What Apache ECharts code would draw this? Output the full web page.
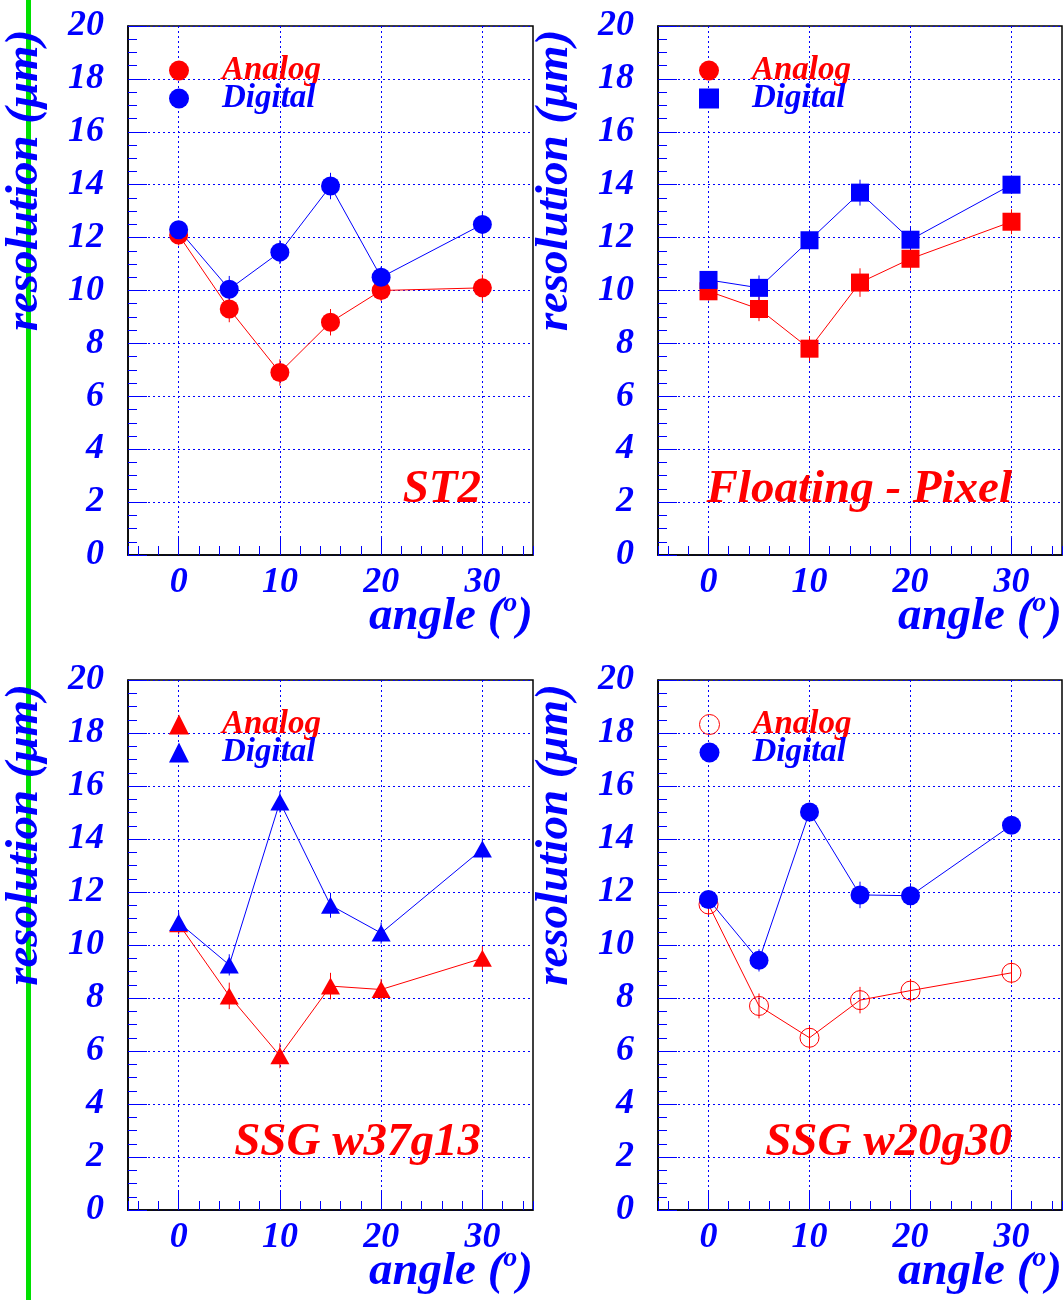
<!DOCTYPE html>
<html><head><meta charset="utf-8">
<script src="https://cdn.jsdelivr.net/npm/echarts@6/dist/echarts.min.js"></script>
<style>html,body{margin:0;padding:0;background:#fff}#c{width:1064px;height:1300px}</style>
</head><body><div id="c"></div>
<script>
// ---- data ----
const angles = [0, 5, 10, 15, 20, 30];

const st2Analog     = [12.1, 9.3, 6.9, 8.8, 10.0, 10.1];
const st2AnalogErr  = [0.4, 0.5, 0.5, 0.5, 0.4, 0.5];
const st2Digital    = [12.3, 10.05, 11.45, 13.95, 10.5, 12.5];
const st2DigitalErr = [0.3, 0.5, 0.45, 0.5, 0.4, 0.45];

const fpAnalog      = [9.97, 9.3, 7.8, 10.3, 11.2, 12.6];
const fpAnalogErr   = [0.35, 0.46, 0.47, 0.54, 0.45, 0.47];
const fpDigital     = [10.4, 10.1, 11.9, 13.7, 11.92, 14.0];
const fpDigitalErr  = [0.33, 0.47, 0.4, 0.49, 0.45, 0.35];

const w37Analog     = [10.8, 8.08, 5.82, 8.45, 8.32, 9.5];
const w37AnalogErr  = [0.4, 0.5, 0.47, 0.5, 0.4, 0.45];
const w37Digital    = [10.85, 9.25, 15.4, 11.5, 10.45, 13.62];
const w37DigitalErr = [0.4, 0.4, 0.4, 0.47, 0.4, 0.4];

const w20Analog     = [11.53, 7.7, 6.5, 7.92, 8.28, 8.95];
const w20AnalogErr  = [0.4, 0.47, 0.44, 0.5, 0.44, 0.41];
const w20Digital    = [11.72, 9.42, 15.02, 11.89, 11.86, 14.52];
const w20DigitalErr = [0.3, 0.42, 0.3, 0.5, 0.47, 0.3];

const panelLabels = ['ST2', 'Floating - Pixel', 'SSG w37g13', 'SSG w20g30'];
const legendNames = ['Analog', 'Digital'];
const xAxisTitle = 'angle (';
const xAxisTitleSup = 'o';
const yAxisTitle = 'resolution (\u03bcm)';

// ---- layout / style ----
const FONT = "'Liberation Serif','DejaVu Serif',serif";
const RED = '#ff0000', BLUE = '#0000ff';
const panels = [
  { grid: {left:128, top:26, width:405, height:529}, a: st2Analog, ae: st2AnalogErr, d: st2Digital, de: st2DigitalErr,
    symA: 'circle', symD: 'circle', legA: 'circle', sizeA: 19, sizeD: 19, openA: false, legend: {left:169, top:54}, label: {right:583, top:467} },
  { grid: {left:658, top:26, width:404, height:529}, a: fpAnalog, ae: fpAnalogErr, d: fpDigital, de: fpDigitalErr,
    symA: 'rect', symD: 'rect', legA: 'circle', sizeA: 18, sizeD: 18, openA: false, legend: {left:699, top:54}, label: {right:52, top:467} },
  { grid: {left:128, top:680, width:405, height:530}, a: w37Analog, ae: w37AnalogErr, d: w37Digital, de: w37DigitalErr,
    symA: 'triangle', symD: 'triangle', legA: 'triangle', sizeA: [19,17], sizeD: [19,17], openA: false, legend: {left:169, top:708}, label: {right:583, top:1120} },
  { grid: {left:658, top:680, width:404, height:530}, a: w20Analog, ae: w20AnalogErr, d: w20Digital, de: w20DigitalErr,
    symA: 'circle', symD: 'circle', legA: 'circle', sizeA: 19, sizeD: 19, openA: true, legend: {left:699, top:708}, label: {right:52, top:1120} }
];

const tickFont = {color: BLUE, fontSize: 36, fontFamily: FONT, fontStyle: 'italic', fontWeight: 'bold'};
const gridLine = {show: true, lineStyle: {color: BLUE, type: [2, 3], width: 1}};

function errItem(params, api) {
  const x = api.value(0), y = api.value(1), e = api.value(2);
  const p1 = api.coord([x, y - e]), p2 = api.coord([x, y + e]);
  return {type: 'line', shape: {x1: p1[0], y1: p1[1], x2: p2[0], y2: p2[1]},
          style: {stroke: api.visual('color'), lineWidth: 1}};
}

const grids = [], xAxes = [], yAxes = [], series = [], legends = [], titles = [];
panels.forEach((p, i) => {
  grids.push(Object.assign({show: true, borderColor: '#000', borderWidth: 1.5, backgroundColor: 'transparent'}, p.grid));
  xAxes.push({
    gridIndex: i, type: 'value', min: -5, max: 35, splitNumber: 4, position: 'bottom',
    axisLine: {show: true, onZero: false, lineStyle: {color: '#000', width: 1.5}},
    axisTick: {show: true, inside: true, length: 18, lineStyle: {color: BLUE, width: 1}},
    axisLabel: Object.assign({showMinLabel: false, showMaxLabel: false, margin: 10}, tickFont),
    splitLine: Object.assign({showMinLine: false, showMaxLine: false}, gridLine),
    name: '{n|' + xAxisTitle + '}{s|' + xAxisTitleSup + '}{n|)}', nameLocation: 'end', nameGap: 0, nameMoveOverlap: false,
    nameTextStyle: {align: 'right', verticalAlign: 'top', padding: [35, 0, 0, 0],
      rich: {
        n: {color: BLUE, fontSize: 47, lineHeight: 46, padding: [8, 0, 0, 0], fontFamily: FONT, fontStyle: 'italic', fontWeight: 'bold'},
        s: {color: BLUE, fontSize: 28, lineHeight: 20, verticalAlign: 'top', fontFamily: FONT, fontStyle: 'italic', fontWeight: 'bold'}
      }}
  });
  xAxes.push({
    gridIndex: i, type: 'value', min: -5, max: 35, splitNumber: 20, position: 'bottom', offset: 0,
    axisLine: {show: false, onZero: false},
    axisTick: {show: true, inside: true, length: 9, lineStyle: {color: BLUE, width: 1}},
    axisLabel: {show: false}, splitLine: {show: false}
  });
  yAxes.push({
    gridIndex: i, type: 'value', min: 0, max: 20, interval: 2,
    axisLine: {show: true, onZero: false, lineStyle: {color: '#000', width: 1.5}},
    axisTick: {show: true, inside: true, length: 19, lineStyle: {color: BLUE, width: 1}},
    minorTick: {show: true, splitNumber: 4, length: 9, lineStyle: {color: BLUE, width: 1}},
    axisLabel: Object.assign({margin: 24}, tickFont),
    splitLine: gridLine,
    name: yAxisTitle, nameLocation: 'middle', nameGap: 80, nameRotate: 90, nameMoveOverlap: false,
    nameTextStyle: {color: BLUE, fontSize: 47, fontFamily: FONT, fontStyle: 'italic', fontWeight: 'bold',
      align: 'center', padding: [0, 0, 0, 220]}
  });
  const aName = legendNames[0] + '|' + i, dName = legendNames[1] + '|' + i;
  const aItem = p.openA ? {color: 'rgba(0,0,0,0)', borderColor: RED, borderWidth: 1} : {color: RED};
  series.push({type: 'custom', name: 'errA' + i, xAxisIndex: 2 * i, yAxisIndex: i, renderItem: errItem,
    itemStyle: {color: RED}, encode: {x: 0, y: 1}, silent: true,
    data: angles.map((a, k) => [a, p.a[k], p.ae[k]])});
  series.push({type: 'line', name: aName, xAxisIndex: 2 * i, yAxisIndex: i,
    symbol: p.symA, symbolSize: p.sizeA, showSymbol: true, showAllSymbol: true,
    itemStyle: aItem, lineStyle: {color: RED, width: 1},
    data: angles.map((a, k) => [a, p.a[k]])});
  series.push({type: 'custom', name: 'errD' + i, xAxisIndex: 2 * i, yAxisIndex: i, renderItem: errItem,
    itemStyle: {color: BLUE}, encode: {x: 0, y: 1}, silent: true,
    data: angles.map((a, k) => [a, p.d[k], p.de[k]])});
  series.push({type: 'line', name: dName, xAxisIndex: 2 * i, yAxisIndex: i,
    symbol: p.symD, symbolSize: p.sizeD, showSymbol: true, showAllSymbol: true,
    itemStyle: {color: BLUE}, lineStyle: {color: BLUE, width: 1},
    data: angles.map((a, k) => [a, p.d[k]])});
  legends.push({
    left: p.legend.left, top: p.legend.top, orient: 'vertical', padding: 0, itemGap: -5,
    itemWidth: 20, itemHeight: 20, selectedMode: false,
    formatter: n => n.split('|')[0],
    textStyle: {fontSize: 33, lineHeight: 20, fontFamily: FONT, fontStyle: 'italic', fontWeight: 'bold', padding: [0, 0, 0, 28]},
    data: [
      {name: aName, icon: p.legA, itemStyle: aItem, textStyle: {color: RED}},
      {name: dName, icon: p.symD, itemStyle: {color: BLUE}, textStyle: {color: BLUE}}
    ]
  });
  titles.push({text: panelLabels[i], right: p.label.right, top: p.label.top, padding: 0,
    textStyle: {color: RED, fontSize: 47, lineHeight: 46, fontFamily: FONT, fontStyle: 'italic', fontWeight: 'bold'}});
});

const chart = echarts.init(document.getElementById('c'), null, {renderer: 'canvas'});
chart.setOption({
  animation: false,
  backgroundColor: '#fff',
  title: titles,
  legend: legends,
  grid: grids,
  xAxis: xAxes,
  yAxis: yAxes,
  series: series,
  graphic: {elements: [{type: 'rect', z: -100, shape: {x: 26, y: 0, width: 5, height: 1300}, style: {fill: '#00e000'}}]}
});
</script></body></html>
